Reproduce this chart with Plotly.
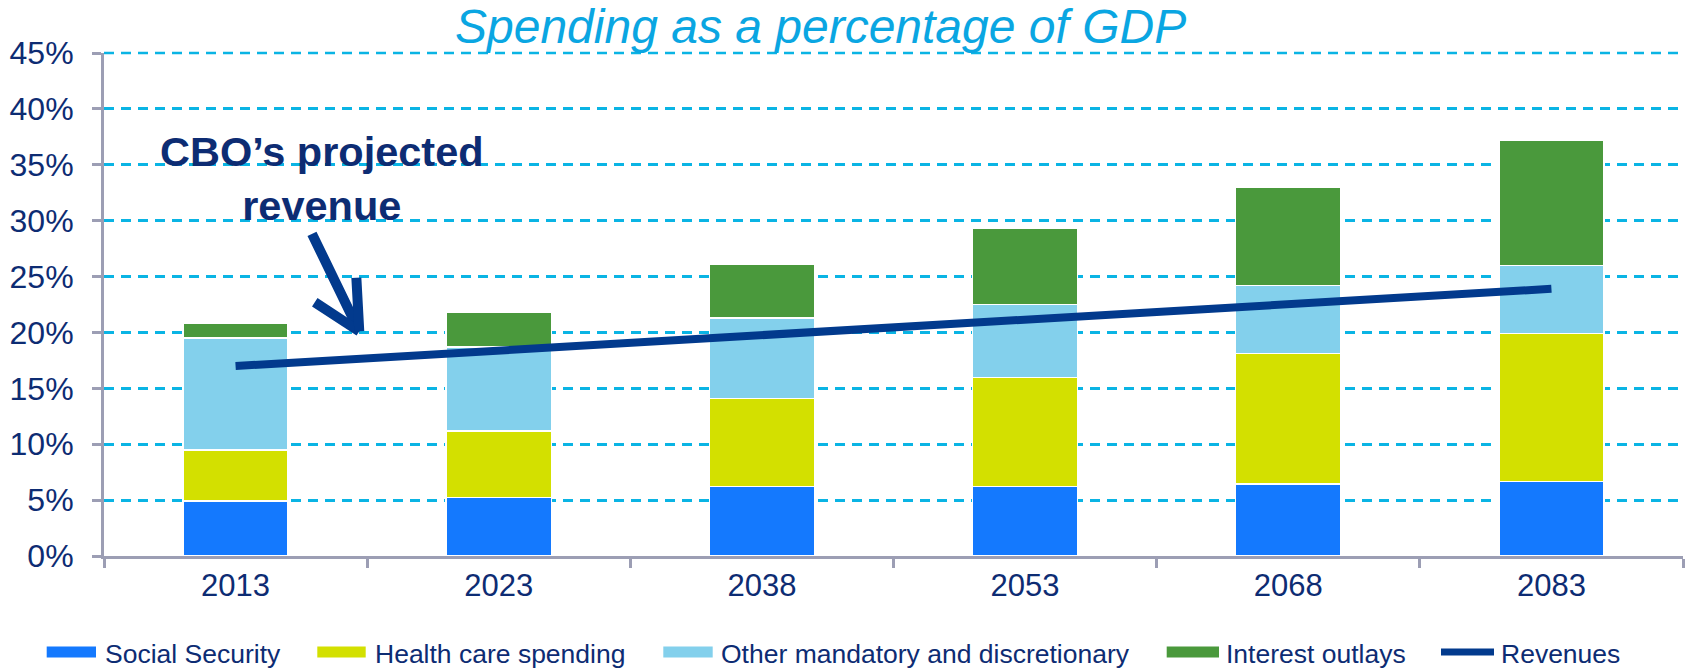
import plotly.graph_objects as go

# ---- data (% of GDP) ----
years = ["2013", "2023", "2038", "2053", "2068", "2083"]
social_security = [4.9, 5.25, 6.2, 6.2, 6.45, 6.65]
health_care = [4.6, 5.95, 7.9, 9.75, 11.65, 13.25]
other_mandatory = [10.0, 7.5, 7.2, 6.55, 6.1, 6.1]
interest_outlays = [1.3, 3.1, 4.8, 6.8, 8.75, 11.2]
revenues = [17.0, 18.4, 19.8, 21.1, 22.5, 23.9]

y_tick_values = [0, 5, 10, 15, 20, 25, 30, 35, 40, 45]
y_tick_labels = ["0%", "5%", "10%", "15%", "20%", "25%", "30%", "35%", "40%", "45%"]

series_names = ["Social Security", "Health care spending",
                "Other mandatory and discretionary", "Interest outlays"]
series_values = [social_security, health_care, other_mandatory, interest_outlays]
series_colors = ["#1479fe", "#d3e000", "#83d0ec", "#4a993c"]

# ---- styling ----
W, H = 1688, 669
ML, MR, MT, MB = 104, 5, 53, 113
FONT = "Liberation Sans, Arial, sans-serif"
NAVY = "#0d2c73"
LINE_BLUE = "#023a8d"
AXIS_GRAY = "#9c9eb4"
GRID_CYAN = "#0ab4e4"
TITLE_CYAN = "#0aa6e2"
GRID_DASH = "10px,7px"


def paper_x(px):
    return (px - ML) / (W - ML - MR)


def paper_y(py):
    return (H - MB - py) / (H - MT - MB)


fig = go.Figure()

for name, vals, color in zip(series_names, series_values, series_colors):
    fig.add_trace(go.Bar(
        x=years, y=vals, name=name, width=0.4,
        marker=dict(color=color, line=dict(color="white", width=1.5)),
        showlegend=False,
    ))

fig.add_trace(go.Scatter(
    x=years, y=revenues, name="Revenues", mode="lines",
    line=dict(color=LINE_BLUE, width=8), showlegend=False,
))

annotations = []
shapes = []

# top gridline sits on the upper edge of the plot area, so draw it explicitly
shapes.append(dict(
    type="line", xref="paper", yref="paper", x0=0, x1=1, y0=1, y1=1,
    layer="below", line=dict(color=GRID_CYAN, width=2.5, dash=GRID_DASH),
))

# title
annotations.append(dict(
    text="<i>Spending as a percentage of GDP</i>", xref="paper", yref="paper",
    x=paper_x(820), y=paper_y(26), xanchor="center", yanchor="middle",
    showarrow=False, font=dict(family=FONT, size=48, color=TITLE_CYAN),
))

# callout text
annotations.append(dict(
    text="<b>CBO’s projected<br>revenue</b>", xref="x", yref="y",
    x=0.33, y=33.75, xanchor="center", yanchor="middle", align="center",
    showarrow=False, font=dict(family=FONT, size=41.5, color=NAVY),
))

# callout arrow: shaft plus two head strokes meeting at the tip
tip_x, tip_y = 0.47, 20.1
for ax, ay in [(-48, -99), (-46, -30), (-3, -55)]:
    annotations.append(dict(
        text="", xref="x", yref="y", x=tip_x, y=tip_y, ax=ax, ay=ay,
        showarrow=True, arrowhead=0, arrowwidth=10, arrowcolor=LINE_BLUE,
        standoff=0, startstandoff=0,
    ))

# legend drawn along the bottom
legend_y = 652
legend_items = [
    (46.7, 96.0, 102.7, series_names[0], series_colors[0]),
    (317.3, 365.7, 372.7, series_names[1], series_colors[1]),
    (663.3, 712.7, 719.3, series_names[2], series_colors[2]),
    (1166.7, 1219.0, 1224.0, series_names[3], series_colors[3]),
]
for x0, x1, tx, label, color in legend_items:
    shapes.append(dict(
        type="rect", xref="paper", yref="paper",
        x0=paper_x(x0), x1=paper_x(x1),
        y0=paper_y(legend_y - 5.5), y1=paper_y(legend_y + 5.5),
        fillcolor=color, line=dict(width=0),
    ))
    annotations.append(dict(
        text=label, xref="paper", yref="paper", x=paper_x(tx), y=paper_y(653.8),
        xanchor="left", yanchor="middle", showarrow=False,
        font=dict(family=FONT, size=26.5, color=NAVY),
    ))
shapes.append(dict(
    type="line", xref="paper", yref="paper",
    x0=paper_x(1441), x1=paper_x(1494), y0=paper_y(legend_y), y1=paper_y(legend_y),
    line=dict(color=LINE_BLUE, width=7),
))
annotations.append(dict(
    text="Revenues", xref="paper", yref="paper", x=paper_x(1499), y=paper_y(653.8),
    xanchor="left", yanchor="middle", showarrow=False,
    font=dict(family=FONT, size=26.5, color=NAVY),
))

fig.update_layout(
    width=W, height=H,
    margin=dict(l=ML, r=MR, t=MT, b=MB, pad=0),
    paper_bgcolor="white", plot_bgcolor="white",
    barmode="stack",
    showlegend=False,
    font=dict(family=FONT, color=NAVY),
    annotations=annotations,
    shapes=shapes,
    xaxis=dict(
        type="category", range=[-0.5, 5.5],
        showline=True, linecolor=AXIS_GRAY, linewidth=3,
        ticks="outside", tickson="boundaries", ticklen=9, tickwidth=3,
        tickcolor=AXIS_GRAY, showgrid=False,
        tickfont=dict(family=FONT, size=31, color=NAVY),
    ),
    yaxis=dict(
        range=[0, 45], tickvals=y_tick_values, ticktext=y_tick_labels,
        showgrid=True, gridcolor=GRID_CYAN, gridwidth=2.5, griddash=GRID_DASH,
        zeroline=False,
        showline=True, linecolor=AXIS_GRAY, linewidth=3,
        ticks="outside", ticklen=9, tickwidth=3, tickcolor=AXIS_GRAY,
        ticklabelstandoff=12,
        tickfont=dict(family=FONT, size=32, color=NAVY),
    ),
)

fig.write_html("out.html")
